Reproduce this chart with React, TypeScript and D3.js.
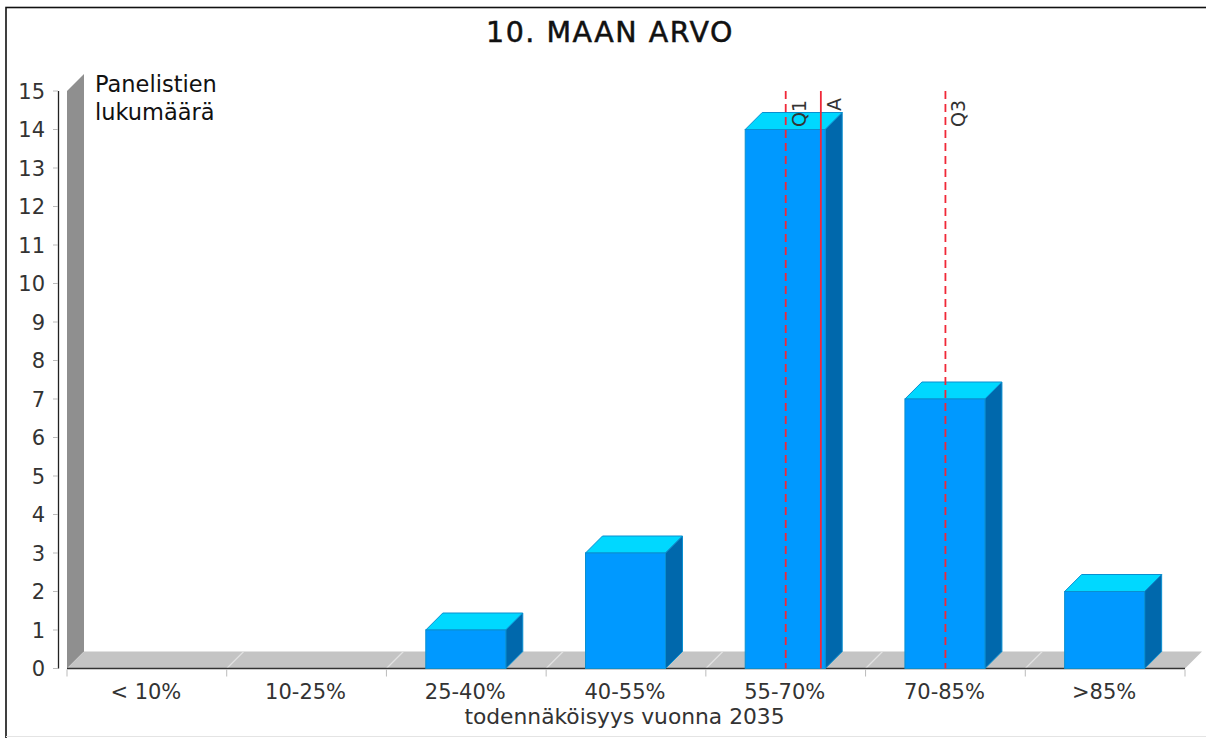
import React, { useEffect } from "react";
import * as d3 from "d3";

const categories = ["< 10%", "10-25%", "25-40%", "40-55%", "55-70%", "70-85%", ">85%"];
const counts = [0, 0, 1, 3, 14, 7, 2];
const yTicks = d3.range(0, 16);
const markers = [
  { label: "Q1", value: 4.5, dashed: true },
  { label: "A", value: 4.72, dashed: false },
  { label: "Q3", value: 5.5, dashed: true },
];
const title = "10. MAAN ARVO";
const yTitle = ["Panelistien", "lukumäärä"];
const xTitle = "todennäköisyys vuonna 2035";

const W = 1206, H = 738;
const FONT = "'DejaVu Sans', sans-serif";
const DX = 17, DY = 17;

export default function App() {
  useEffect(() => {
    document.body.style.margin = "0";
    document.body.style.background = "#fff";
  }, []);
  const x = d3.scaleLinear().domain([0, 7]).range([67, 1185]);
  const y = d3.scaleLinear().domain([0, 15]).range([668.5, 91]);
  const barW = 80;
  const y0 = y(0);
  const poly = (pts: number[][]) => d3.line()(pts as [number, number][]) + "Z";
  return (
    <svg width={W} height={H} style={{ display: "block", position: "absolute", left: 0, top: 0 }} fontFamily={FONT}>
      <rect x={6} y={7.5} width={W + 4} height={H + 4} fill="#fff" stroke="#111" strokeWidth={1.6} />
      <line x1={6} x2={W} y1={736.5} y2={736.5} stroke="#e4e4e4" />
      <text x={610} y={42} textAnchor="middle" fontSize={28.5} letterSpacing={1.5} stroke="#111" strokeWidth={0.5} fill="#111">{title}</text>

      {/* back wall and floor */}
      <path d={poly([[x(0), y(15)], [x(0) + DX, y(15) - DY], [x(0) + DX, y0 - DY], [x(0), y0]])} fill="#8f8f8f" />
      <path d={poly([[x(0), y0], [x(0) + DX, y0 - DY], [x(7) + DX, y0 - DY], [x(7), y0]])} fill="#c4c4c4" />
      {d3.range(1, 7).map((i) => (
        <line key={i} x1={x(i)} x2={x(i) + DX} y1={y0} y2={y0 - DY} stroke="#e2e2e2" strokeWidth={1.2} />
      ))}

      {/* y axis */}
      <line x1={58.5} x2={58.5} y1={y(15)} y2={y0} stroke="#222" strokeWidth={1.3} />
      {yTicks.map((t) => (
        <g key={t}>
          <line x1={53} x2={58} y1={y(t)} y2={y(t)} stroke="#bbb" />
          <text x={45} y={y(t) + 7.5} textAnchor="end" fontSize={21} fill="#333">{t}</text>
        </g>
      ))}
      <text fontSize={22.5} fill="#111">
        <tspan x={95} y={92}>{yTitle[0]}</tspan>
        <tspan x={95} y={120}>{yTitle[1]}</tspan>
      </text>

      {/* x axis */}
      <line x1={x(0)} x2={x(7)} y1={y0} y2={y0} stroke="#333" strokeWidth={1.6} />
      {d3.range(0, 8).map((i) => (
        <line key={i} x1={x(i)} x2={x(i)} y1={y0 + 1} y2={y0 + 8} stroke="#bbb" />
      ))}
      {categories.map((c, i) => (
        <text key={c} x={x(i + 0.5) - 1} y={699} textAnchor="middle" fontSize={21} fill="#333">{c}</text>
      ))}
      <text x={624.5} y={724} textAnchor="middle" fontSize={21.8} fill="#333">{xTitle}</text>

      {/* bars */}
      {counts.map((v, i) => {
        if (v === 0) return null;
        const l = x(i + 0.5) - barW / 2 - 0.5;
        const r = l + barW;
        const t = y(v);
        return (
          <g key={i} stroke="#0a8fd0" strokeWidth={1}>
            <path d={poly([[l, t], [l + DX, t - DY], [r + DX, t - DY], [r, t]])} fill="#00d8ff" />
            <path d={poly([[r, t], [r + DX, t - DY], [r + DX, y0 - DY], [r, y0]])} fill="#0068ac" />
            <rect x={l} y={t} width={barW} height={y0 - t} fill="#0099ff" />
          </g>
        );
      })}

      {/* reference markers */}
      {markers.map((m) => (
        <g key={m.label}>
          <line x1={x(m.value)} x2={x(m.value)} y1={91} y2={y0} stroke="#f02838" strokeWidth={1.8}
            strokeDasharray={m.dashed ? "8 5" : undefined} />
          <text transform={`translate(${x(m.value) + 20},${m.label === "A" ? 111 : 127}) rotate(-90)`} fontSize={19} fill="#333">{m.label}</text>
        </g>
      ))}
    </svg>
  );
}
